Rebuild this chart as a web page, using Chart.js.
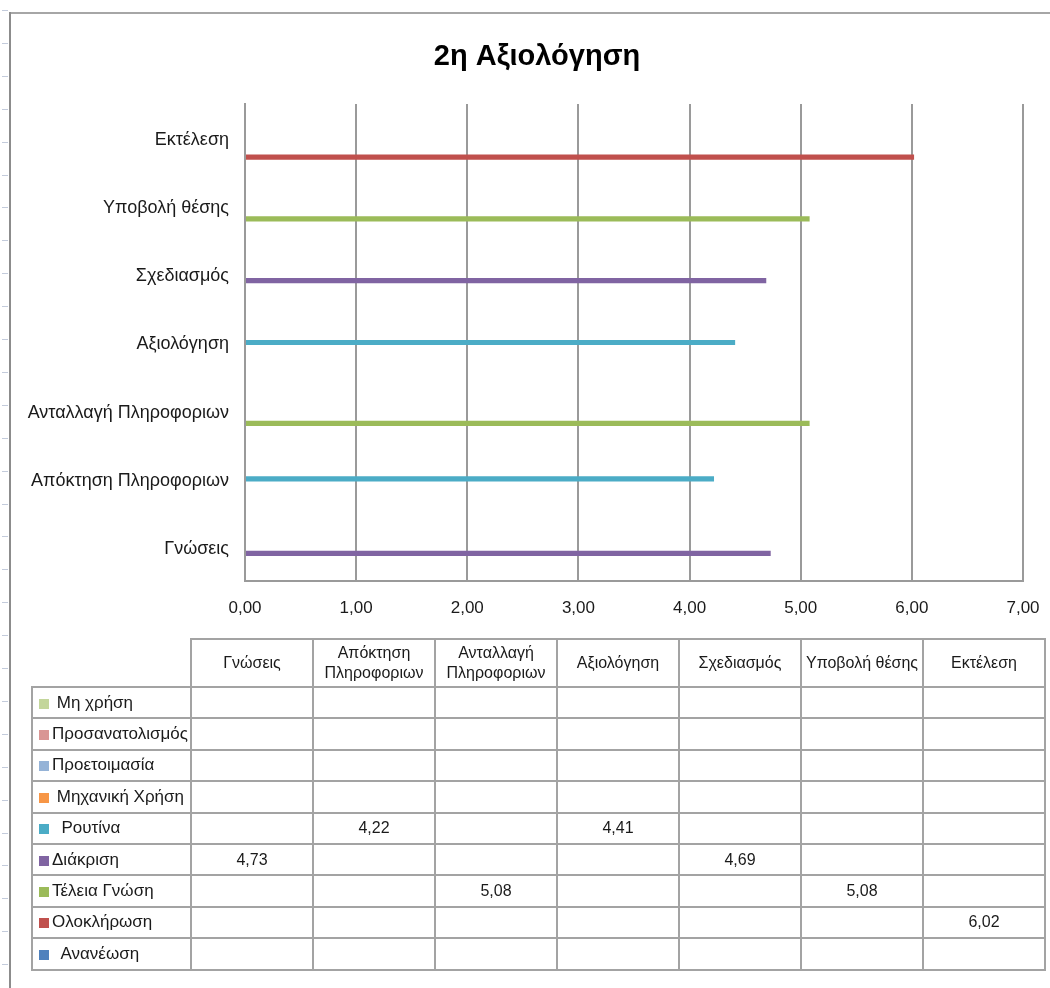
<!DOCTYPE html>
<html>
<head>
<meta charset="utf-8">
<script src="https://cdn.jsdelivr.net/npm/chart.js@4"></script>
<style>
html,body{margin:0;padding:0;background:#fff;}
body{width:1050px;height:988px;position:relative;overflow:hidden;font-family:"Liberation Sans",Arial,sans-serif;}
#wrap{position:absolute;left:0;top:0;width:1050px;height:640px;}
#frameTop{position:absolute;left:9px;top:12px;width:1041px;height:2px;background:#a6a6a6;}
#frameLeft{position:absolute;left:9px;top:12px;width:2px;height:976px;background:#8c8c8c;}
#rowTicks{position:absolute;left:2px;top:10px;width:6px;height:978px;
  background:repeating-linear-gradient(to bottom,#c3cbdb 0,#c3cbdb 1px,transparent 1px,transparent 32.9px);}
#tbl{position:absolute;left:31px;top:638px;border-collapse:collapse;table-layout:fixed;font-size:16px;color:#1a1a1a;}
#tbl td,#tbl th{border:2px solid #a3a3a3;padding:0;text-align:center;font-weight:normal;line-height:20px;}
#tbl th.corner{border-top:none;border-left:none;}
#tbl tr.head{height:48px;}
#tbl tr.row{height:31.4px;}
#tbl td.lbl{text-align:left;padding-left:6px;white-space:pre;overflow:visible;font-size:17px;}
.key{display:inline-block;width:10px;height:10px;margin-right:3px;vertical-align:-1px;}
</style>
</head>
<body>
<div id="rowTicks"></div>
<div id="wrap"><canvas id="c" width="1050" height="640"></canvas></div>
<div id="frameTop"></div>
<div id="frameLeft"></div>
<table id="tbl"></table>
<script>
// ---- data ----
const categories = ['Γνώσεις', 'Απόκτηση Πληροφοριων', 'Ανταλλαγή Πληροφοριων', 'Αξιολόγηση', 'Σχεδιασμός', 'Υποβολή θέσης', 'Εκτέλεση'];
const headerLabels = ['Γνώσεις', 'Απόκτηση\nΠληροφοριων', 'Ανταλλαγή\nΠληροφοριων', 'Αξιολόγηση', 'Σχεδιασμός', 'Υποβολή θέσης', 'Εκτέλεση'];
const seriesNames = [' Μη χρήση', 'Προσανατολισμός', 'Προετοιμασία', ' Μηχανική Χρήση', '  Ρουτίνα', 'Διάκριση', 'Τέλεια Γνώση', 'Ολοκλήρωση', '  Ανανέωση'];
const seriesColors = ['#C3D69B', '#D99694', '#95B3D7', '#F79646', '#4BACC6', '#8064A2', '#9BBB59', '#C0504D', '#4F81BD'];
const mhXrhsh         = [null, null, null, null, null, null, null];
const prosanatolismos = [null, null, null, null, null, null, null];
const proetoimasia    = [null, null, null, null, null, null, null];
const mhxanikiXrhsh   = [null, null, null, null, null, null, null];
const routina         = [null, 4.22, null, 4.41, null, null, null];
const diakrisi        = [4.73, null, null, null, 4.69, null, null];
const teleiaGnosi     = [null, null, 5.08, null, null, 5.08, null];
const oloklirosi      = [null, null, null, null, null, null, 6.02];
const ananeosi        = [null, null, null, null, null, null, null];
const seriesValues = [mhXrhsh, prosanatolismos, proetoimasia, mhxanikiXrhsh, routina, diakrisi, teleiaGnosi, oloklirosi, ananeosi];
const xTickValues = [0, 1, 2, 3, 4, 5, 6, 7];
const chartTitle = '2η Αξιολόγηση';

const fmt = v => Number(v).toFixed(2).replace('.', ',');
const FONT = 'Liberation Sans';
const GRID = '#9a9a9a';

// title drawn centred over the whole chart frame (Excel style)
const titlePlugin = {
  id: 'frameTitle',
  afterDraw(chart) {
    const ctx = chart.ctx;
    ctx.save();
    ctx.font = 'bold 29px "' + FONT + '"';
    ctx.fillStyle = '#000';
    ctx.textAlign = 'center';
    ctx.textBaseline = 'middle';
    ctx.fillText(chartTitle, 537, 57);
    ctx.restore();
  }
};

// ---- chart ----
new Chart(document.getElementById('c'), {
  type: 'bar',
  data: {
    labels: categories.slice().reverse(),
    datasets: seriesNames.map((n, i) => ({
      label: n.trim(),
      data: seriesValues[i].slice().reverse(),
      backgroundColor: seriesColors[i],
      borderWidth: 0,
      categoryPercentage: 0.84,
      barPercentage: 0.82
    }))
  },
  options: {
    indexAxis: 'y',
    responsive: false,
    animation: false,
    devicePixelRatio: 1,
    layout: { padding: { top: 104, right: 27, bottom: 0, left: 0 } },
    plugins: {
      legend: { display: false },
      tooltip: { enabled: false },
      title: { display: false }
    },
    scales: {
      x: {
        type: 'linear', min: 0, max: 7,
        afterBuildTicks: s => { s.ticks = xTickValues.map(v => ({ value: v })); },
        ticks: { callback: v => fmt(v), color: '#1a1a1a', font: { family: FONT, size: 17 }, padding: 17, maxRotation: 0 },
        grid: { color: GRID, lineWidth: 2, drawTicks: false },
        border: { color: GRID, width: 2 },
        afterFit: s => { s.height = 59; s.paddingLeft = 0; s.paddingRight = 0; }
      },
      y: {
        ticks: { color: '#1a1a1a', font: { family: FONT, size: 18 }, padding: 16, labelOffset: 2 },
        grid: { display: false, drawTicks: false },
        border: { display: true, color: GRID, width: 2 },
        afterFit: s => { s.width = 245; s.paddingTop = 0; s.paddingBottom = 0; }
      }
    }
  },
  plugins: [titlePlugin]
});

// ---- data table ----
const tbl = document.getElementById('tbl');
let html = '<colgroup><col style="width:159px">' + categories.map(() => '<col style="width:122px">').join('') + '</colgroup>';
html += '<tr class="head"><th class="corner"></th>' + headerLabels.map(h => '<th>' + h.replace('\n', '<br>') + '</th>').join('') + '</tr>';
seriesNames.forEach((n, i) => {
  html += '<tr class="row"><td class="lbl"><span class="key" style="background:' + seriesColors[i] + '"></span>' + n + '</td>' +
    seriesValues[i].map(v => '<td>' + (v == null ? '' : fmt(v)) + '</td>').join('') + '</tr>';
});
tbl.innerHTML = html;
</script>
</body>
</html>
